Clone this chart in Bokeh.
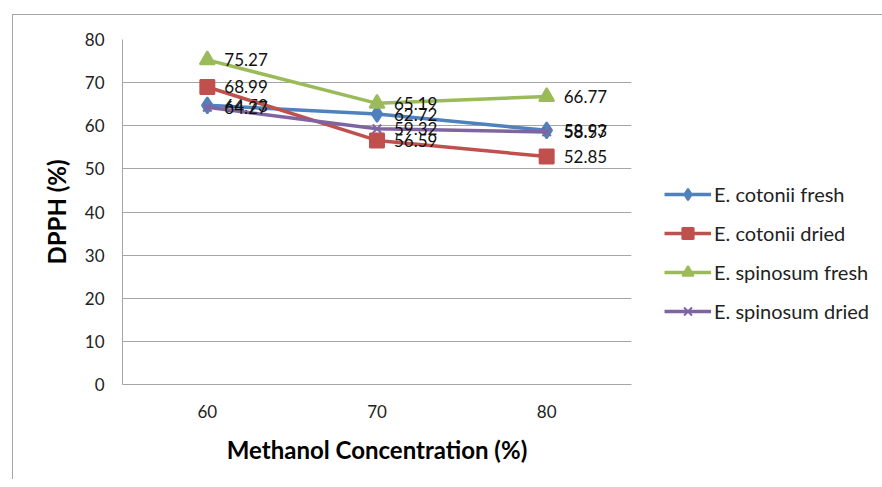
from bokeh.plotting import figure
from bokeh.models import FactorRange, Range1d, Legend, LegendItem, ColumnDataSource
from bokeh.core.properties import value
from bokeh.embed import file_html
from bokeh.resources import INLINE

categories = ["60", "70", "80"]
cotonii_fresh = [64.73, 62.72, 58.93]
cotonii_dried = [68.99, 56.59, 52.85]
spinosum_fresh = [75.27, 65.19, 66.77]
spinosum_dried = [64.27, 59.32, 58.57]
series_names = ["E. cotonii fresh", "E. cotonii dried", "E. spinosum fresh", "E. spinosum dried"]
y_ticks = [0, 10, 20, 30, 40, 50, 60, 70, 80]

FONT = "Lato"

p = figure(x_range=FactorRange(*categories), y_range=Range1d(0, 80),
           width=860, height=465, output_backend="svg", toolbar_location=None,
           frame_width=509, frame_height=345, min_border_left=109, min_border_top=24,
           min_border_right=241, min_border_bottom=95)
p.margin = (14, 0, 0, 12)
p.styles = {"border-left": "1px solid #a6a6a6", "border-top": "1px solid #a6a6a6"}
p.outline_line_color = None
p.background_fill_color = "white"

p.xgrid.grid_line_color = None
p.ygrid.grid_line_color = "#a6a6a6"
p.ygrid.grid_line_width = 1
p.yaxis.ticker = y_ticks
p.yaxis.minor_tick_line_color = None
p.yaxis.major_tick_out = 6
p.yaxis.major_tick_in = 0
p.xaxis.major_tick_out = 0
for ax in (p.xaxis, p.yaxis):
    ax.axis_line_color = "#a6a6a6"
    ax.major_tick_line_color = "#a6a6a6" if ax is p.yaxis else None
    ax.major_label_text_font = FONT
    ax.major_label_text_font_size = "17px"
    ax.major_label_text_color = "#222222"
    ax.axis_label_text_font = FONT
    ax.axis_label_text_font_size = "24px"
    ax.axis_label_text_font_style = "bold"
    ax.axis_label_text_color = "black"
p.xaxis.major_label_standoff = 20
p.yaxis.major_label_standoff = 12
p.xaxis.axis_label = "Methanol Concentration (%)"
p.yaxis.axis_label = "DPPH (%)"
p.xaxis.axis_label_standoff = 14
p.yaxis.axis_label_standoff = 11

colors = ["#4f81bd", "#c0504d", "#9bbb59", "#8064a2"]
markers = ["diamond", "square", "triangle", "x"]
sizes = [16, 14, 15, 12]
data = [cotonii_fresh, cotonii_dried, spinosum_fresh, spinosum_dried]

items = []
for name, vals, c, m, s in zip(series_names, data, colors, markers, sizes):
    src = ColumnDataSource(dict(x=categories, y=vals, t=[f"{v:.2f}" for v in vals]))
    l = p.line("x", "y", source=src, line_color=c, line_width=3.5)
    mk = p.scatter("x", "y", source=src, marker=m, size=s, fill_color=c,
                   line_color=c, line_width=2)
    p.text("x", "y", text="t", source=src, x_offset=17, text_baseline="middle",
           text_font=value(FONT), text_font_size="17px", text_color="#111111")
    items.append(LegendItem(label=name, renderers=[l, mk]))

legend = Legend(items=items, location=(33, 59), glyph_width=47, glyph_height=28,
                label_height=28, spacing=11, padding=0, margin=0, label_standoff=3,
                label_text_font=FONT, label_text_font_size="20px",
                label_text_color="#222222", border_line_color=None,
                background_fill_alpha=0)
p.add_layout(legend, "right")

open("out.html", "w").write(file_html(p, INLINE))
